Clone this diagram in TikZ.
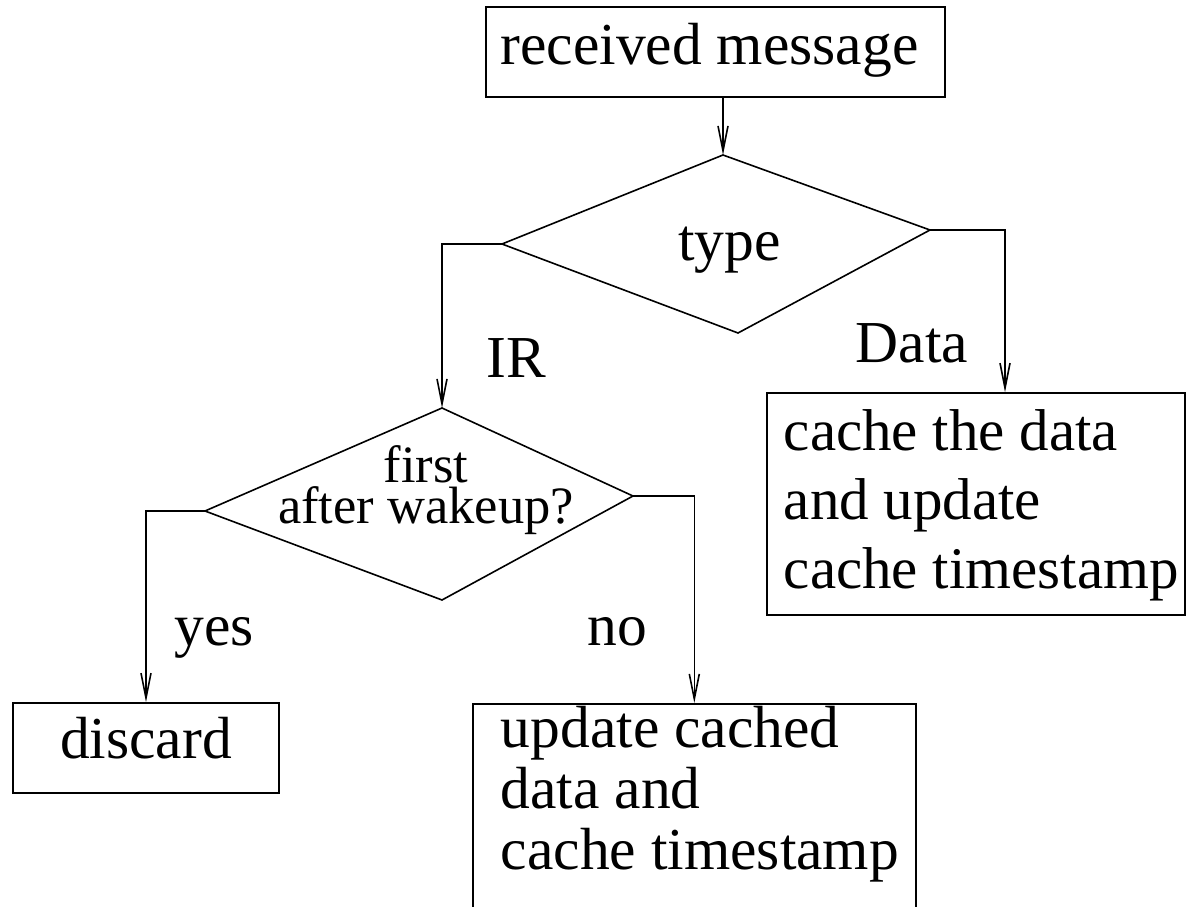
\documentclass[tikz,border=0pt]{standalone}
\usepackage{fontspec}
\setmainfont{Liberation Serif}
\usetikzlibrary{arrows.meta}
\begin{document}
\begin{tikzpicture}[x=1pt,y=-1pt,
  line width=1.6pt,
  big/.style={font=\fontsize{59.5}{69}\selectfont},
  box/.style={draw, rectangle, inner sep=0pt, line width=1.6pt},
  lbl/.style={big, anchor=base, inner sep=0pt},
  flow/.style={line width=1.6pt, -{Straight Barb[length=25pt,width=10pt]}},
  outline/.style={line width=1.6pt, line join=miter}]
\useasboundingbox (0,0) rectangle (1186,907);
\clip (0,0) rectangle (1186,907);

% boxes
\node[box, big, text height=44pt, text depth=18pt, minimum width=459pt, minimum height=90pt] (recv) at (715.5,52) {received message\hspace*{12pt}};
\node[box, big, text height=40pt, text depth=20pt, minimum width=266pt, minimum height=90pt] (discard) at (146,748) {discard};
\node[box, minimum width=418pt, minimum height=222pt] (data) at (976,504) {};
\node[big, anchor=base west, inner sep=0pt] (datatext) at (783,450)
  {\fontsize{59}{69}\selectfont\begin{tabular}[t]{@{}l@{}}cache the data\\and update\\cache timestamp\end{tabular}};
\node[box, anchor=north west, minimum width=443pt, minimum height=260pt] (upd) at (472,703) {};
\node[big, anchor=base west, inner sep=0pt] (updtext) at (500,747)
  {\fontsize{59.5}{61}\selectfont\begin{tabular}[t]{@{}l@{}}update cached\\data and\\cache timestamp\end{tabular}};

% decision "type"
\coordinate (d1t) at (723,155);
\coordinate (d1r) at (930,230);
\coordinate (d1b) at (738,333);
\coordinate (d1l) at (502,244);
\draw[outline] (d1t) -- (d1r) -- (d1b) -- (d1l) -- cycle;
\node[lbl] (type) at (729.5,260) {type};

% decision "first after wakeup?"
\coordinate (d2t) at (442,408);
\coordinate (d2r) at (633,496);
\coordinate (d2b) at (442,600);
\coordinate (d2l) at (205,511);
\draw[outline] (d2t) -- (d2r) -- (d2b) -- (d2l) -- cycle;
\node[anchor=north, inner sep=0pt, align=center, font=\fontsize{52.5}{41}\selectfont] (wake) at (426,445)
  {first\\after wakeup?};

% connectors
\draw[flow] (recv.south -| d1t) -- (d1t);
\draw[flow] (d1l) -| (d2t);
\draw[flow] (d1r) -| ([xshift=29pt]data.north);
\draw[flow] (d2l) -| (discard.north);
\draw[flow] (d2r) -| (upd.north);

% branch labels
\node[lbl] (ir) at (516,377) {IR};
\node[lbl] (dlab) at (912,362) {Data};
\node[lbl] (yes) at (214,645) {yes};
\node[lbl] (no) at (617,645) {no};
\end{tikzpicture}
\end{document}
